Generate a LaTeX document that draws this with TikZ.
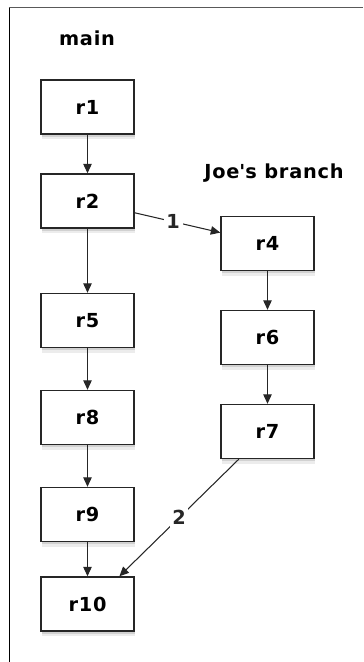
\documentclass[tikz,border=0pt]{standalone}
\usepackage{fontspec}
\setmainfont{DejaVu Sans}[LetterSpace=4]
\usetikzlibrary{arrows.meta,shadows}

\begin{document}
\begin{tikzpicture}[
        rev/.style={draw=black!85, line width=0.8pt, fill=white,
            minimum width=1.86cm, minimum height=1.08cm,
            font=\bfseries\fontsize{11}{13}\selectfont,
            drop shadow={opacity=0.15, shadow xshift=0.5pt, shadow yshift=-3pt},
            drop shadow={opacity=0.25, shadow xshift=0.3pt, shadow yshift=-1.5pt}},
        lbl/.style={font=\bfseries\fontsize{11}{13}\selectfont},
        num/.style={fill=white, inner sep=1.5pt, font=\bfseries\fontsize{11}{13}\selectfont},
        arr/.style={-{Triangle[length=0.19cm,width=0.17cm]}, line width=0.6pt, black!85}
    ]
            \useasboundingbox (0,0) rectangle (7.26,-13.24);

            % frame
            \draw [black!65, line width=1.1pt] (0.18,-0.15) -- (7.26,-0.15);
            \draw [line width=0.5pt] (0.18,-0.15) -- (0.18,-13.24);

            \node [lbl] (main) at (1.74,-0.76) {main};
            \node [lbl] (joe) at (5.48,-3.46) {Joe\textquotesingle s branch};

            \node [rev] (r1) at (1.75,-2.14) {r1};
            \node [rev] (r2) at (1.75,-4.02) {r2};
            \node [rev] (r5) at (1.75,-6.41) {r5};
            \node [rev] (r8) at (1.75,-8.35) {r8};
            \node [rev] (r9) at (1.75,-10.29) {r9};
            \node [rev] (r10) at (1.75,-12.08) {r10};

            \node [rev] (r4) at (5.35,-4.87) {r4};
            \node [rev] (r6) at (5.35,-6.75) {r6};
            \node [rev] (r7) at (5.35,-8.63) {r7};

            \draw [arr] (r1) -- (r2);
            \draw [arr] (r2) -- (r5);
            \draw [arr] (r5) -- (r8);
            \draw [arr] (r8) -- (r9);
            \draw [arr] (r9) -- (r10);

            \draw [arr] (r4) -- (r6);
            \draw [arr] (r6) -- (r7);

            \draw [arr] (r2.-14) -- node [num, pos=0.45] (m1) {1} (r4.167);
            \draw [arr] (r7.224) -- node [num] (m2) {2} (r10.41);
        \end{tikzpicture}
\end{document}
